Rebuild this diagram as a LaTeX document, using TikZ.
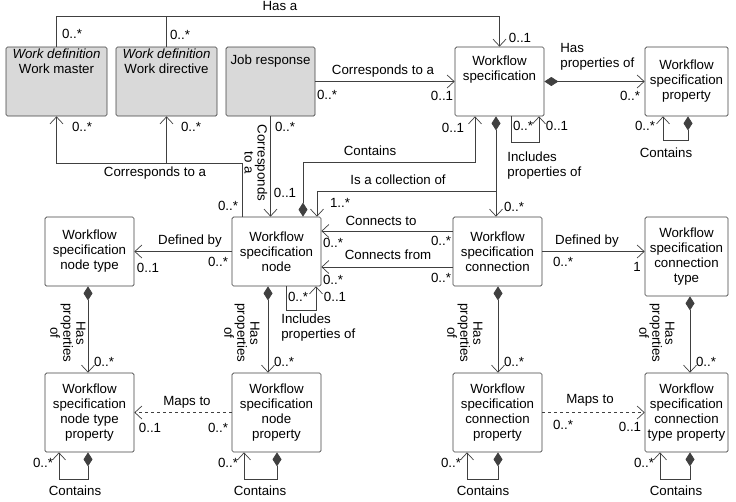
\documentclass[tikz,border=0pt]{standalone}
\usepackage{fontspec}
\setmainfont{Liberation Sans}
\usetikzlibrary{arrows.meta,calc}
\def\linecol{black!75}

\begin{document}
\begin{tikzpicture}[x=1pt,y=-1pt,line width=0.7pt,draw=\linecol]
	\tikzstyle{every node}=[font=\fontsize{13.3}{15}\selectfont]
	\tikzstyle{box}=[draw=\linecol,rounded corners=1.5pt,align=center,inner sep=1pt]
	\tikzstyle{grey box}=[box,fill=black!15]
	\tikzstyle{lab}=[inner sep=1pt,align=center]
	\tikzstyle{vlab}=[lab,rotate=-90,font=\fontsize{13.3}{13}\selectfont]
	\tikzstyle{assoc}=[-{Straight Barb[length=7pt,width=13pt]}]
	\tikzstyle{comp}=[{Diamond[length=14pt,width=9pt]}-{Straight Barb[length=7pt,width=13pt]}]
	\tikzstyle{dcomp}=[{Straight Barb[length=7pt,width=13pt]}-{Diamond[length=14pt,width=9pt]}]
	
	\useasboundingbox (0,0) rectangle (736,501);
	
	% Draw the top row
	\node[grey box,minimum width=101,minimum height=69] (WM) at (56.5,81.5) {};
	\node[lab,anchor=north] at ($(WM.north)+(0,1)$) {\textit{Work definition}\\Work master};
	\node[grey box,minimum width=101,minimum height=69] (WD) at (166.5,81.5) {};
	\node[lab,anchor=north] at ($(WD.north)+(0,1)$) {\textit{Work definition}\\Work directive};
	\node[grey box,minimum width=89,minimum height=69] (JR) at (270.5,81.5) {};
	\node[lab,anchor=north] at ($(JR.north)+(0,7)$) {Job response};
	\node[box,minimum width=89,minimum height=69] (WS) at (499.5,81.5) {Workflow\\specification\\[12pt]};
	\node[box,minimum width=83,minimum height=69] (WSP) at (686.5,81.5) {Workflow\\specification\\property};
	
	% Draw the middle row
	\node[box,minimum width=89,minimum height=69] (NT) at (89.5,251.5) {Workflow\\specification\\node type};
	\node[box,minimum width=89,minimum height=69] (N) at (276.5,251.5) {Workflow\\specification\\node};
	\node[box,minimum width=89,minimum height=69] (C) at (497.5,251.5) {Workflow\\specification\\connection};
	\node[box,minimum width=83,minimum height=79] (CT) at (686.5,256.5) {Workflow\\specification\\connection\\type};
	
	% Draw the bottom row
	\node[box,minimum width=89,minimum height=79] (NTP) at (89.5,412.5) {Workflow\\specification\\node type\\property};
	\node[box,minimum width=89,minimum height=79] (NP) at (276.5,412.5) {Workflow\\specification\\node\\property};
	\node[box,minimum width=89,minimum height=79] (CP) at (497.5,412.5) {Workflow\\specification\\connection\\property};
	\node[box,minimum width=83,minimum height=79] (CTP) at (686.5,412.5) {Workflow\\specification\\connection\\type property};
	
	% Has a
	\draw[assoc] (WM.north) |- (WS.north |- 0,16) -- (WS.north);
	\draw (WD.north) -- (WD.north |- 0,16);
	\node[lab] at (280,6) {Has a};
	\node[lab] at (72,34) {0..*};
	\node[lab] at (180,35) {0..*};
	\node[lab] at (520,38) {0..1};
	
	% Job response and workflow specification
	\draw[assoc] (JR.east) -- (WS.west);
	\node[lab] at (383,71) {Corresponds to a};
	\node[lab] at (327,95) {0..*};
	\node[lab] at (442,96) {0..1};
	\draw[comp] (WS.east) -- (WSP.west);
	\node[lab,anchor=north west,align=left] at (559,42) {Has\\properties of};
	\node[lab] at (630,96) {0..*};
	
	% Self loops at the top
	\draw[dcomp] ($(WSP.south)+(-23.5,0)$) |- ++(0,24) -| ($(WSP.south)+(1.5,0)$);
	\node[lab] at (645,126) {0..*};
	\node[lab] at (666,153) {Contains};
	\draw[assoc] ($(WS.south)+(11.5,0)$) |- ++(28,26) -- ($(WS.south)+(39.5,0)$);
	\node[lab] at (523,126) {0..*};
	\node[lab] at (557,126) {0..1};
	\node[lab,anchor=north west,align=left] at (506,151) {Includes\\properties of};
	
	% Workflow specification to its nodes and connections
	\draw[comp] ($(WS.south)+(-3.5,0)$) -- ($(C.north)+(-1.5,0)$);
	\node[lab] at (514,207) {0..*};
	\coordinate (coll) at ($(WS.south)+(-3.5,75)$);
	\draw[assoc] (coll) -| ($(N.north)+(40.5,0)$);
	\node[lab] at (398,180) {Is a collection of};
	\node[lab] at (340,203) {1..*};
	\draw[comp] ($(N.north)+(26.5,0)$) |- ($(WS.south)+(-24.5,46)$) -- ($(WS.south)+(-24.5,0)$);
	\node[lab] at (370,151) {Contains};
	\node[lab] at (453,128) {0..1};
	
	% Work definitions and job response to the node
	\draw[assoc] ($(N.north)+(-34.5,0)$) |- ($(WM.south)+(0,47)$) -- (WM.south);
	\draw[assoc] ($(WD.south)+(0,47)$) -- (WD.south);
	\node[lab] at (82,127) {0..*};
	\node[lab] at (191,127) {0..*};
	\node[lab] at (155,173) {Corresponds to a};
	\node[lab] at (228,206) {0..*};
	\draw[assoc] (JR.south) -- (JR.south |- N.north);
	\node[lab] at (285,127) {0..*};
	\node[lab] at (285,193) {0..1};
	\node[vlab] at (256,163) {Corresponds\\to a};
	
	% Middle row connectors
	\draw[assoc] (N.west) -- (NT.east);
	\node[lab] at (190,241) {Defined by};
	\node[lab] at (218,262) {0..*};
	\node[lab] at (148,268) {0..1};
	\draw[assoc] ($(C.west)+(0,-20.5)$) -- ($(N.east)+(0,-20.5)$);
	\node[lab] at (381,221) {Connects to};
	\node[lab] at (333,243) {0..*};
	\node[lab] at (441,241) {0..*};
	\draw[assoc] ($(C.west)+(0,15.5)$) -- ($(N.east)+(0,15.5)$);
	\node[lab] at (388,255) {Connects from};
	\node[lab] at (333,280) {0..*};
	\node[lab] at (441,278) {0..*};
	\draw[assoc] (C.east) -- (CT.west |- C.east);
	\node[lab] at (587,241) {Defined by};
	\node[lab] at (563,262) {0..*};
	\node[lab] at (637,267) {1};
	\draw[assoc] ($(N.south)+(9.5,0)$) |- ++(30,24) -- ($(N.south)+(39.5,0)$);
	\node[lab] at (298,297) {0..*};
	\node[lab] at (335,297) {0..1};
	\node[lab,anchor=north west,align=left] at (280,313) {Includes\\properties of};
	
	% Has properties of
	\foreach \top/\bot/\dx/\lx in {NT/NTP/-1.5/68,N/NP/-8.5/242,C/CP/0.5/465,CT/CTP/3.5/657}{
		\draw[comp] ($(\top.south)+(\dx,0)$) -- ($(\bot.north)+(\dx,0)$);
		\node[lab] at ($(\bot.north)+(\dx+16,-11)$) {0..*};
		\node[vlab] at (\lx,333) {Has\\properties\\of};
	}
	
	% Maps to
	\draw[assoc,dashed] (NP.west) -- (NTP.east);
	\node[lab] at (187,402) {Maps to};
	\node[lab] at (218,428) {0..*};
	\node[lab] at (150,428) {0..1};
	\draw[assoc,dashed] (CP.east) -- (CTP.west);
	\node[lab] at (590,400) {Maps to};
	\node[lab] at (563,425) {0..*};
	\node[lab] at (630,427) {0..1};
	
	% Contains loops at the bottom
	\foreach \n/\ax/\dx in {NTP/-30.5/-1.5,NP/-32.5/0.5,CP/-30.5/0.5,CTP/-26.5/3.5}{
		\draw[dcomp] ($(\n.south)+(\ax,0)$) |- ++(\dx-\ax,27) -- ($(\n.south)+(\dx,0)$);
		\node[lab] at ($(\n.south)+(\ax-16,11)$) {0..*};
		\node[lab] at ($(\n.south)+(\ax+16,38)$) {Contains};
	}
\end{tikzpicture}
\end{document}
